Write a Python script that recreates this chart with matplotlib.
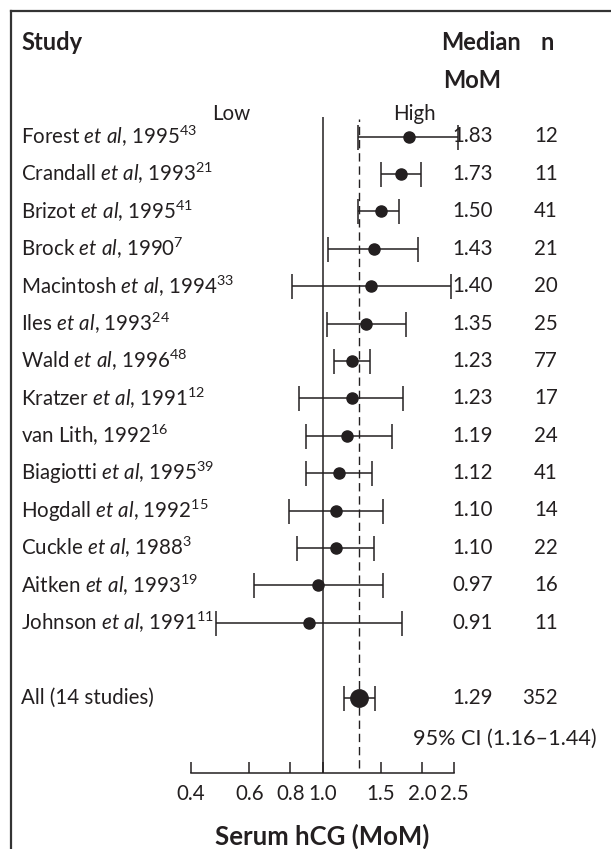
import numpy as np
import matplotlib

matplotlib.use("Agg")
import matplotlib.pyplot as plt
from matplotlib.lines import Line2D
from matplotlib.transforms import blended_transform_factory
from matplotlib.ticker import FixedLocator, FixedFormatter, NullLocator

# ── Data ──
authors = ["Forest", "Crandall", "Brizot", "Brock", "Macintosh", "Iles", "Wald",
           "Kratzer", "van Lith", "Biagiotti", "Hogdall", "Cuckle", "Aitken", "Johnson"]
has_et_al = [True, True, True, True, True, True, True,
             True, False, True, True, True, True, True]
years = [1995, 1993, 1995, 1990, 1994, 1993, 1996, 1991, 1992, 1995, 1992, 1988, 1993, 1991]
refs = [43, 21, 41, 7, 33, 24, 48, 12, 16, 39, 15, 3, 19, 11]
median = [1.83, 1.73, 1.50, 1.43, 1.40, 1.35, 1.23, 1.23, 1.19, 1.12, 1.10, 1.10, 0.97, 0.91]
lower = [1.28, 1.50, 1.28, 1.04, 0.81, 1.03, 1.08, 0.85, 0.89, 0.89, 0.79, 0.84, 0.62, 0.475]
upper = [2.57, 1.98, 1.71, 1.94, 2.44, 1.79, 1.39, 1.75, 1.62, 1.41, 1.52, 1.43, 1.52, 1.74]
n_cases = [12, 11, 41, 21, 20, 25, 77, 17, 24, 41, 14, 22, 16, 11]

pooled_label = "All (14 studies)"
pooled_median = 1.29
pooled_lower = 1.16
pooled_upper = 1.44
pooled_n = 352

tick_values = [0.4, 0.6, 0.8, 1.0, 1.5, 2.0, 2.5]
tick_labels = ["0.4", "0.6", "0.8", "1.0", "1.5", "2.0", "2.5"]

INK = "#231f20"
FONT = "Lato"
FS = 14.8      # body text
FS_HEAD = 17   # bold column headers
FS_XLAB = 18.5

plt.rcParams["font.family"] = [FONT, "DejaVu Sans"]
plt.rcParams["mathtext.fontset"] = "custom"
plt.rcParams["mathtext.rm"] = FONT
plt.rcParams["mathtext.it"] = f"{FONT}:italic"
plt.rcParams["mathtext.bf"] = f"{FONT}:bold"
plt.rcParams["mathtext.default"] = "regular"

W, H = 611, 849
fig = plt.figure(figsize=(W / 100, H / 100), dpi=100, facecolor="white")


def fx(px):
    return px / W


def fy(py):
    return 1 - py / H


# Axes in pixel box: x 191..454, y 117..773
ax = fig.add_axes([fx(191), fy(773), fx(454) - fx(191), fy(117) - fy(773)])
ax.set_xscale("log")
ax.set_xlim(0.4, 2.5)

n_rows = len(authors)
row_y = np.arange(n_rows)
pooled_y = n_rows + 1
# row 0 at pixel 136.5, spacing 37.4 px
ax.set_ylim((773 - 136.5) / 37.4, (117 - 136.5) / 37.4)

for s in ["top", "left", "right"]:
    ax.spines[s].set_visible(False)
ax.spines["bottom"].set_color(INK)
ax.spines["bottom"].set_linewidth(1.1)
ax.patch.set_alpha(0)

ax.xaxis.set_major_locator(FixedLocator(tick_values))
ax.xaxis.set_major_formatter(FixedFormatter(tick_labels))
ax.xaxis.set_minor_locator(NullLocator())
ax.tick_params(axis="x", direction="in", length=8, width=1.1, color=INK,
               labelsize=FS, labelcolor=INK, pad=8)
ax.set_yticks([])

# Reference lines
ax.axvline(1.0, color=INK, lw=1.1, zorder=1)
ax.axvline(pooled_median, ymin=0.008, ymax=0.997, color=INK, lw=1.0,
           linestyle=(0, (6, 3.5)), zorder=1)

# Study estimates
median = np.array(median)
err = np.vstack([median - np.array(lower), np.array(upper) - median])
eb = ax.errorbar(median, row_y, xerr=err, fmt="o", color=INK, ms=8,
                 elinewidth=1.1, capsize=9, capthick=1.1, zorder=3)
for art in [eb.lines[0], *eb.lines[1], *eb.lines[2]]:
    art.set_clip_on(False)

ax.errorbar([pooled_median], [pooled_y],
            xerr=[[pooled_median - pooled_lower], [pooled_upper - pooled_median]],
            fmt="o", color=INK, ms=12.5, elinewidth=1.1, capsize=9,
            capthick=1.1, zorder=3)

# Text columns
trans = blended_transform_factory(fig.transFigure, ax.transData)
for i in range(n_rows):
    if has_et_al[i]:
        label = f"{authors[i]} $\\mathit{{et\\ al}}$, {years[i]}$^{{{refs[i]}}}$"
    else:
        label = f"{authors[i]}, {years[i]}$^{{{refs[i]}}}$"
    ax.text(fx(21), i, label, transform=trans, ha="left", va="center",
            fontsize=FS, color=INK, clip_on=False)
    ax.text(fx(493), i, f"{median[i]:.2f}", transform=trans, ha="right",
            va="center", fontsize=FS, color=INK, clip_on=False)
    ax.text(fx(558), i, f"{n_cases[i]}", transform=trans, ha="right",
            va="center", fontsize=FS, color=INK, clip_on=False)

ax.text(fx(21), pooled_y, pooled_label, transform=trans, ha="left", va="center",
        fontsize=FS, color=INK, clip_on=False)
ax.text(fx(493), pooled_y, f"{pooled_median:.2f}", transform=trans, ha="right",
        va="center", fontsize=FS, color=INK, clip_on=False)
ax.text(fx(558), pooled_y, f"{pooled_n}", transform=trans, ha="right",
        va="center", fontsize=FS, color=INK, clip_on=False)
fig.text(fx(597), fy(739), f"95% CI ({pooled_lower:.2f}\u2013{pooled_upper:.2f})",
         ha="right", va="center", fontsize=15.6, color=INK)

# Headers
fig.text(fx(21), fy(43), "Study", ha="left", va="center", fontsize=FS_HEAD,
         fontweight="bold", color=INK)
fig.text(fx(481), fy(43), "Median", ha="center", va="center", fontsize=FS_HEAD,
         fontweight="bold", color=INK)
fig.text(fx(472), fy(81), "MoM", ha="center", va="center", fontsize=FS_HEAD,
         fontweight="bold", color=INK)
fig.text(fx(547), fy(43), "n", ha="center", va="center", fontsize=FS_HEAD,
         fontweight="bold", color=INK)
fig.text(fx(231), fy(114), "Low", ha="center", va="center", fontsize=FS, color=INK)
fig.text(fx(414), fy(114), "High", ha="center", va="center", fontsize=FS, color=INK)

ax.set_xlabel("Serum hCG (MoM)", fontsize=FS_XLAB, fontweight="bold", color=INK,
              labelpad=14)

# Frame (top and left border)
fig.add_artist(Line2D([fx(11), 1.0], [fy(11), fy(11)], color="#333333", lw=1.6))
fig.add_artist(Line2D([fx(11), fx(11)], [fy(11), 0.0], color="#333333", lw=1.6))

fig.savefig("out.png", dpi=100, facecolor="white")
plt.close(fig)
